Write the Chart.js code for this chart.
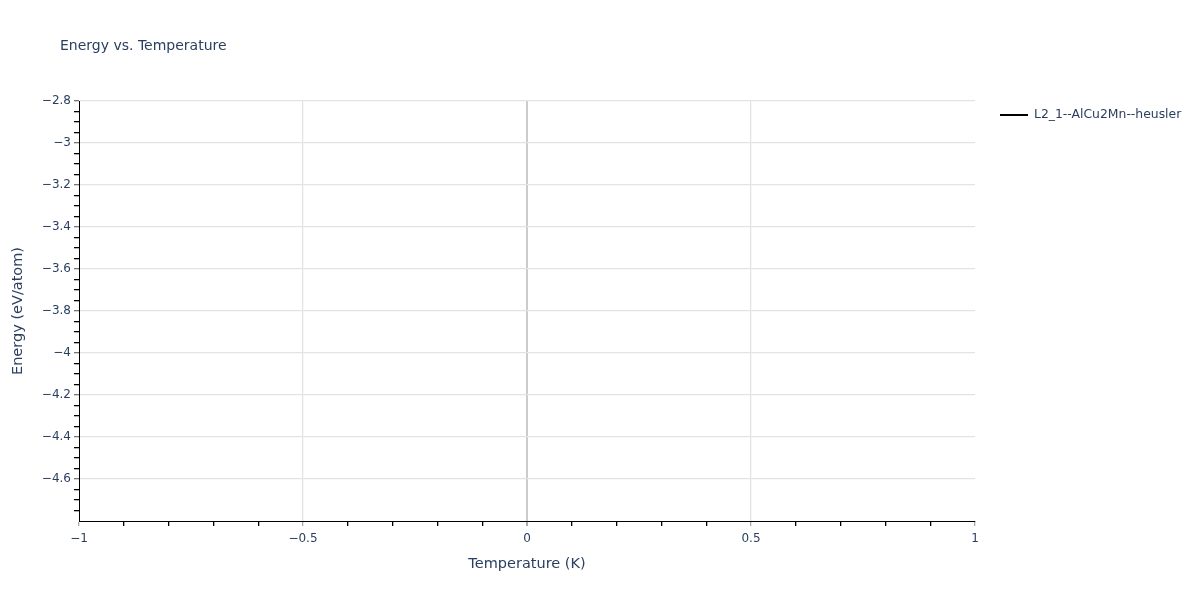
<!DOCTYPE html>
<html>
<head>
<meta charset="utf-8">
<script src="https://cdn.jsdelivr.net/npm/chart.js@4"></script>
<style>
  html, body { margin: 0; padding: 0; background: #fff; }
  #wrap { width: 1200px; height: 600px; position: relative; }
</style>
</head>
<body>
<div id="wrap"><canvas id="chart" width="1200" height="600"></canvas></div>
<script>
// Chart data (the reference has an empty series)
const seriesName = 'L2_1--AlCu2Mn--heusler';
const temperatures = [];
const energies = [];

// Axis settings
const xRange = [-1, 1];
const yRange = [-4.8, -2.8];
const xMajorTicks = [-1, -0.5, 0, 0.5, 1];
const yMajorTicks = [-2.8, -3, -3.2, -3.4, -3.6, -3.8, -4, -4.2, -4.4, -4.6];

const FONT = 'DejaVu Sans, Verdana, sans-serif';
const TEXT = '#2a3f5f';

const isMajor = (v, list) => list.some(m => Math.abs(m - v) < 1e-6);
const fmt = v => {
    const s = String(Math.round(v * 100) / 100);
    return s.replace('-', '\u2212');
};

// Titles and legend drawn by hand to match the plotly layout
const textPlugin = {
    id: 'texts',
    afterDraw(chart) {
        const ctx = chart.ctx;
        const area = chart.chartArea;
        ctx.save();
        ctx.fillStyle = TEXT;
        ctx.textBaseline = 'middle';

        // chart title
        ctx.font = '14px ' + FONT;
        ctx.textAlign = 'left';
        ctx.fillText('Energy vs. Temperature', 60, 46);

        // x axis title
        ctx.font = '14.5px ' + FONT;
        ctx.textAlign = 'center';
        ctx.fillText('Temperature (K)', (area.left + area.right) / 2, 564);

        // y axis title
        ctx.translate(18, (area.top + area.bottom) / 2);
        ctx.rotate(-Math.PI / 2);
        ctx.fillText('Energy (eV/atom)', 0, 0);
        ctx.restore();

        // legend
        ctx.save();
        chart.data.datasets.forEach((ds, i) => {
            const y = 115 + i * 20;
            ctx.strokeStyle = ds.borderColor;
            ctx.lineWidth = 2;
            ctx.beginPath();
            ctx.moveTo(1000, y);
            ctx.lineTo(1028, y);
            ctx.stroke();
            ctx.fillStyle = TEXT;
            ctx.font = '12.4px ' + FONT;
            ctx.textAlign = 'left';
            ctx.textBaseline = 'middle';
            ctx.fillText(ds.label, 1034, y);
        });
        ctx.restore();
    }
};

new Chart(document.getElementById('chart').getContext('2d'), {
    type: 'line',
    data: {
        datasets: [{
            label: seriesName,
            data: temperatures.map((t, i) => ({ x: t, y: energies[i] })),
            borderColor: '#000000',
            borderWidth: 2,
            pointRadius: 0
        }]
    },
    options: {
        responsive: false,
        animation: false,
        layout: { padding: { left: 39, right: 225, top: 101, bottom: 39 } },
        plugins: { legend: { display: false }, title: { display: false }, tooltip: { enabled: false } },
        scales: {
            x: {
                type: 'linear',
                min: xRange[0],
                max: xRange[1],
                afterFit: s => { s.height = 40; },
                border: { display: true, color: '#000', width: 1 },
                grid: {
                    drawOnChartArea: true,
                    tickLength: 5,
                    lineWidth: c => {
                        const v = c.tick ? c.tick.value : 0;
                        return Math.abs(v) < 1e-6 ? 2 : 1.3;
                    },
                    color: c => {
                        const v = c.tick ? c.tick.value : 0;
                        if (Math.abs(v) < 1e-6) return '#cccccc';
                        if (Math.abs(Math.abs(v) - 1) < 1e-6) return 'rgba(0,0,0,0)';
                        return isMajor(v, xMajorTicks) ? '#e3e3e3' : 'rgba(0,0,0,0)';
                    },
                    tickColor: c => {
                        const v = c.tick ? c.tick.value : 0;
                        return isMajor(v, xMajorTicks) ? '#aaaaaa' : '#000000';
                    }
                },
                ticks: {
                    stepSize: 0.1,
                    autoSkip: false,
                    maxRotation: 0,
                    padding: 6,
                    color: TEXT,
                    font: { family: FONT, size: 12 },
                    callback: v => isMajor(v, xMajorTicks) ? fmt(v) : ''
                }
            },
            y: {
                type: 'linear',
                min: yRange[0],
                max: yRange[1],
                afterFit: s => { s.width = 40; },
                border: { display: true, color: '#000', width: 1 },
                grid: {
                    tickLength: 5,
                    lineWidth: 1.3,
                    color: c => {
                        const v = c.tick ? c.tick.value : 0;
                        return isMajor(v, yMajorTicks) ? '#e3e3e3' : 'rgba(0,0,0,0)';
                    },
                    tickColor: c => {
                        const v = c.tick ? c.tick.value : 0;
                        if (Math.abs(v - yRange[0]) < 1e-6) return 'rgba(0,0,0,0)';
                        return isMajor(v, yMajorTicks) ? '#777777' : '#000000';
                    }
                },
                ticks: {
                    stepSize: 0.05,
                    autoSkip: false,
                    padding: 3,
                    color: TEXT,
                    font: { family: FONT, size: 12 },
                    callback: v => isMajor(v, yMajorTicks) ? fmt(v) : ''
                }
            }
        }
    },
    plugins: [textPlugin]
});
</script>
</body>
</html>
